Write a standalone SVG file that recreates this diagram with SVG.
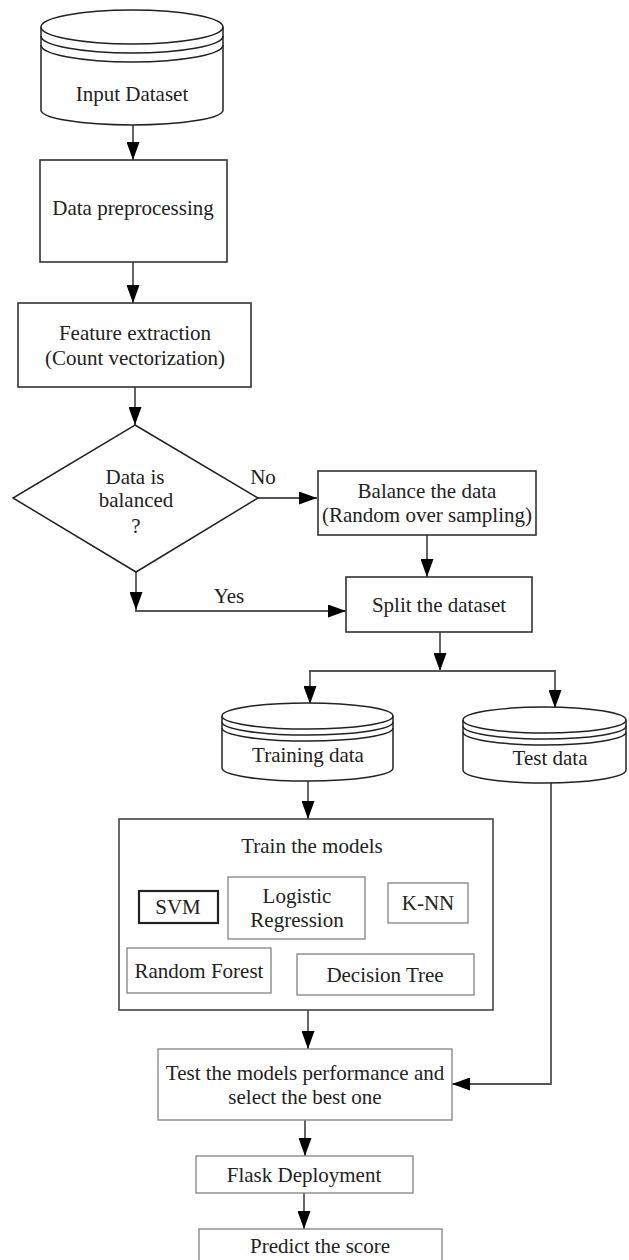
<svg xmlns="http://www.w3.org/2000/svg" width="629" height="1260" viewBox="0 0 629 1260">
<style>
text{font-family:"Liberation Serif","Times New Roman",serif;font-size:21px;fill:#222;text-anchor:middle}
.box{fill:#fff;stroke:#333;stroke-width:1.6}
.lbox{fill:#fff;stroke:#8a8a8a;stroke-width:1.4}
.dbox{fill:#fff;stroke:#222;stroke-width:2.2}
.cyl{fill:#fff;stroke:#222;stroke-width:1.5}
.arc{fill:none;stroke:#222;stroke-width:1.5}
.con{fill:none;stroke:#555;stroke-width:1.8}
</style>
<defs>
<marker id="ah" markerUnits="userSpaceOnUse" markerWidth="18" markerHeight="13" refX="18" refY="6.5" orient="auto">
<path d="M0,0 L18,6.5 L0,13 z" fill="#000"/>
</marker>
</defs>
<rect width="629" height="1260" fill="#fff"/>

<g id="connectors">
<line class="con" x1="133" y1="125" x2="133" y2="160" marker-end="url(#ah)"/>
<line class="con" x1="133" y1="262" x2="133" y2="303" marker-end="url(#ah)"/>
<line class="con" x1="135" y1="387" x2="135" y2="425" marker-end="url(#ah)"/>
<line class="con" x1="258" y1="498" x2="317" y2="498" marker-end="url(#ah)"/>
<line class="con" x1="427" y1="535" x2="427" y2="577" marker-end="url(#ah)"/>
<line class="con" x1="136" y1="572" x2="136" y2="610" marker-end="url(#ah)"/>
<line class="con" x1="135" y1="611" x2="346" y2="611" marker-end="url(#ah)"/>
<line class="con" x1="440" y1="632" x2="440" y2="671" marker-end="url(#ah)"/>
<line class="con" x1="309" y1="671" x2="556" y2="671"/>
<line class="con" x1="310" y1="671" x2="310" y2="704" marker-end="url(#ah)"/>
<line class="con" x1="555" y1="671" x2="555" y2="708" marker-end="url(#ah)"/>
<line class="con" x1="308" y1="781" x2="308" y2="819" marker-end="url(#ah)"/>
<line class="con" x1="308" y1="1010" x2="308" y2="1049" marker-end="url(#ah)"/>
<polyline class="con" points="551,783 551,1084 452,1084" marker-end="url(#ah)"/>
<line class="con" x1="305" y1="1120" x2="305" y2="1156" marker-end="url(#ah)"/>
<line class="con" x1="304" y1="1193" x2="304" y2="1229" marker-end="url(#ah)"/>
</g>

<g id="input-dataset">
<path class="cyl" d="M41,27 L41,110 A91,15 0 0 0 223,110 L223,27 A91,17 0 0 0 41,27 Z"/>
<path class="arc" d="M41,27 A91,17 0 0 0 223,27"/>
<path class="arc" d="M41,36 A91,17 0 0 0 223,36"/>
<path class="arc" d="M41,45 A91,17 0 0 0 223,45"/>
<text x="132" y="101">Input Dataset</text>
</g>

<g id="data-preprocessing">
<rect class="box" x="40" y="160" width="187" height="102"/>
<text x="133" y="215">Data preprocessing</text>
</g>

<g id="feature-extraction">
<rect class="box" x="18" y="303" width="233" height="84"/>
<text x="135" y="340">Feature extraction</text>
<text x="135" y="365">(Count vectorization)</text>
</g>

<g id="decision">
<polygon fill="#fff" stroke="#222" stroke-width="1.5" points="135,425 258,498 136,572 13,498"/>
<text x="135" y="484">Data is</text>
<text x="136" y="507">balanced</text>
<text x="136" y="533">?</text>
<text x="263" y="484">No</text>
<text x="229" y="603">Yes</text>
</g>

<g id="balance-data">
<rect class="box" x="318" y="471" width="218" height="64"/>
<text x="427" y="498">Balance the data</text>
<text x="427" y="522">(Random over sampling)</text>
</g>

<g id="split-dataset">
<rect class="box" x="346" y="577" width="186" height="55"/>
<text x="439" y="612">Split the dataset</text>
</g>

<g id="training-data">
<path class="cyl" d="M222,716 L222,768 A85.5,13 0 0 0 393,768 L393,716 A85.5,13 0 0 0 222,716 Z"/>
<path class="arc" d="M222,716 A85.5,13 0 0 0 393,716"/>
<path class="arc" d="M222,722 A85.5,13 0 0 0 393,722"/>
<path class="arc" d="M222,728 A85.5,13 0 0 0 393,728"/>
<text x="308" y="762">Training data</text>
</g>

<g id="test-data">
<path class="cyl" d="M463,720 L463,770 A81.5,13 0 0 0 626,770 L626,720 A81.5,13 0 0 0 463,720 Z"/>
<path class="arc" d="M463,720 A81.5,13 0 0 0 626,720"/>
<path class="arc" d="M463,726 A81.5,13 0 0 0 626,726"/>
<path class="arc" d="M463,732 A81.5,13 0 0 0 626,732"/>
<text x="550" y="765">Test data</text>
</g>

<g id="train-models">
<rect fill="#fff" stroke="#444" stroke-width="1.6" x="119" y="819" width="374" height="191"/>
<text x="312" y="853">Train the models</text>
</g>

<g id="svm">
<rect class="dbox" x="139" y="891" width="79" height="32"/>
<text x="178" y="914">SVM</text>
</g>

<g id="logistic-regression">
<rect class="lbox" x="228" y="877" width="137" height="62"/>
<text x="297" y="903">Logistic</text>
<text x="297" y="927">Regression</text>
</g>

<g id="knn">
<rect class="lbox" x="388" y="883" width="80" height="40"/>
<text x="428" y="910">K-NN</text>
</g>

<g id="random-forest">
<rect class="lbox" x="127" y="948" width="144" height="45"/>
<text x="199" y="978">Random Forest</text>
</g>

<g id="decision-tree">
<rect class="lbox" x="297" y="954" width="177" height="41"/>
<text x="385" y="982">Decision Tree</text>
</g>

<g id="test-models">
<rect class="lbox" x="158" y="1049" width="294" height="71"/>
<text x="305" y="1080">Test the models performance and</text>
<text x="305" y="1104">select the best one</text>
</g>

<g id="flask-deployment">
<rect class="lbox" x="196" y="1156" width="217" height="37"/>
<text x="304" y="1182">Flask Deployment</text>
</g>

<g id="predict-score">
<rect class="lbox" x="199" y="1229" width="243" height="40"/>
<text x="320" y="1253">Predict the score</text>
</g>
</svg>
